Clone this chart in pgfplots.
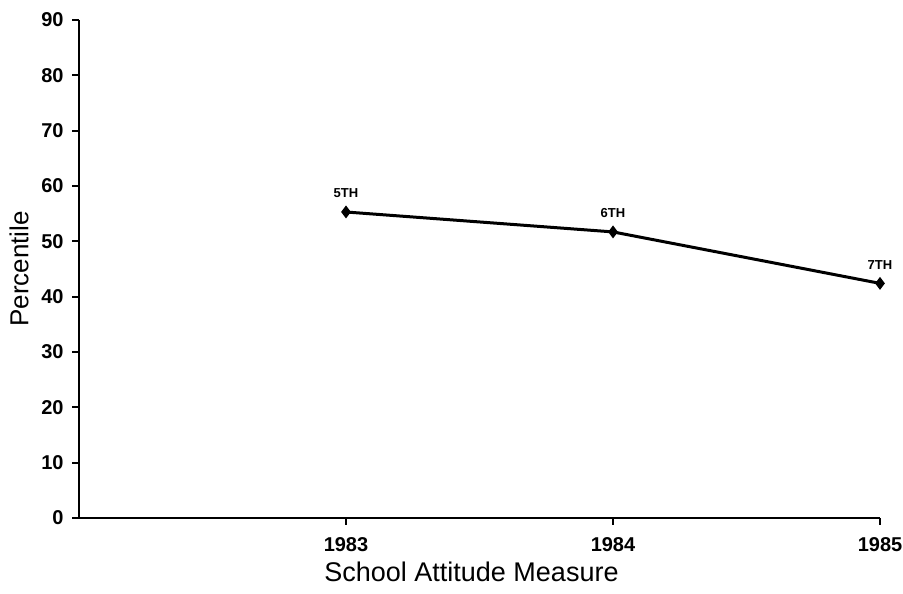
\documentclass[border=0pt]{standalone}
\usepackage{fontspec}
\setmainfont{Liberation Sans}
\usepackage{pgfplots}
\pgfplotsset{compat=1.18}
\begin{document}
\begin{tikzpicture}
\begin{axis}[
  scale only axis,
  width=400.5pt, height=249pt,
  xmin=1982, xmax=1985, ymin=0, ymax=90,
  enlargelimits=false,
  axis x line=bottom, axis y line=left,
  axis line style={-, line width=1.2pt},
  xtick={1983,1984,1985}, ytick={0,10,...,90},
  tick align=outside, major tick length=3.5pt,
  tick style={line width=0.9pt, black},
  /pgf/number format/assume math mode=true,
  x tick label style={/pgf/number format/1000 sep={}, font=\fontsize{10}{11}\selectfont\bfseries, inner sep=0pt, anchor=north, yshift=-6pt},
  y tick label style={font=\fontsize{10}{11}\selectfont\bfseries, inner sep=0pt, anchor=east, xshift=-4pt},
  xlabel={School Attitude Measure},
  ylabel={Percentile},
  every axis x label/.style={at={(axis description cs:0.49,0)}, anchor=center, yshift=-27pt, font=\fontsize{13.5}{15}\selectfont},
  every axis y label/.style={at={(axis description cs:0,0.5)}, xshift=-30pt, rotate=90, anchor=center, font=\fontsize{13}{15}\selectfont},
  clip=false,
  nodes near coords,
  point meta=explicit symbolic,
  every node near coord/.append style={font=\fontsize{6.5}{7}\selectfont\bfseries, anchor=south, yshift=3pt},
]
\addplot[black, line width=1.5pt, mark=diamond*, mark size=2pt] table[meta=lab] {
x y lab
1983 55.3 5TH
1984 51.7 6TH
1985 42.4 7TH
};
\end{axis}
\pgfresetboundingbox
\path[use as bounding box] ([shift={(-39.5pt,-38pt)}]current axis.south west) rectangle ([shift={(11.5pt,10pt)}]current axis.north east);
\end{tikzpicture}
\end{document}
